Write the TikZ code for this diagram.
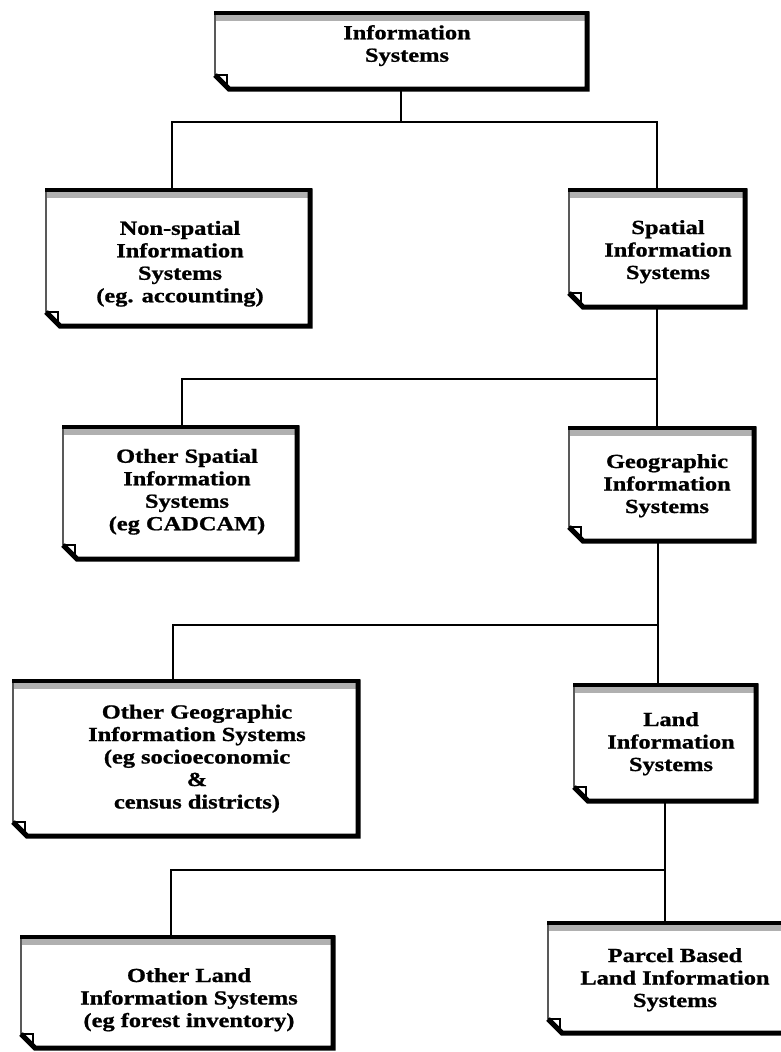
\documentclass[tikz,border=0pt]{standalone}
\usepackage{fontspec}
\usepackage{graphicx}
\newfontfamily\boxfont{Liberation Serif}[BoldFeatures={FakeBold=0.9}]
\newcommand\bt[1]{\scalebox{1.22}[1]{\begin{tabular}{@{}c@{}}#1\end{tabular}}}
\begin{document}
\begin{tikzpicture}[x=1pt,y=-1pt,
  notebox/.style={rectangle,inner sep=0pt,outer sep=0pt,anchor=north west},
  boxtext/.style={inner sep=0pt,font=\boxfont\bfseries\fontsize{20}{22.5}\selectfont},
  conn/.style={line width=2.6pt,line join=miter}]
\useasboundingbox (0,0) rectangle (781,1052);
\newcommand\drawnote[1]{%
  \fill[white] (#1.north west) -- (#1.north east) -- (#1.south east) -- ([xshift=14pt]#1.south west) -- ([yshift=14pt]#1.south west) -- cycle;
  \fill[gray!62] ([shift={(1pt,-2pt)}]#1.north west) rectangle ([shift={(-2pt,-8pt)}]#1.north east);
  \draw[line width=1.4pt,line join=miter] (#1.north west) -- (#1.north east) -- (#1.south east) -- ([xshift=14pt]#1.south west) -- ([yshift=14pt]#1.south west) -- cycle;
  \draw[line width=3.5pt] ([xshift=-0.7pt]#1.north west) -- ([xshift=2pt]#1.north east);
  \draw[line width=5pt,line join=miter] ([yshift=1.75pt]#1.north east) -- (#1.south east) -- ([xshift=14pt]#1.south west) -- ([yshift=14pt]#1.south west);
  \draw[line width=1.2pt] ([yshift=14pt]#1.south west) -- ([shift={(12pt,14pt)}]#1.south west) -- ([xshift=12pt]#1.south west);
}
% boxes
\node[notebox,minimum width=372pt,minimum height=76pt]  (b1) at (215,13) {};
\node[notebox,minimum width=264pt,minimum height=136pt] (b2) at (46,190) {};
\node[notebox,minimum width=176pt,minimum height=117pt] (b3) at (569,190) {};
\node[notebox,minimum width=234pt,minimum height=132pt] (b4) at (63,427) {};
\node[notebox,minimum width=185pt,minimum height=113pt] (b5) at (569,428) {};
\node[notebox,minimum width=345pt,minimum height=155pt] (b6) at (13,681) {};
\node[notebox,minimum width=182pt,minimum height=116pt] (b7) at (574,685) {};
\node[notebox,minimum width=312pt,minimum height=111pt] (b8) at (21,937) {};
\node[notebox,minimum width=238pt,minimum height=110pt] (b9) at (548,923) {};
% junctions
\coordinate (j1) at (401,122);
\coordinate (j2) at (657,379);
\coordinate (j3) at (658,625);
\coordinate (j4) at (665,870);
% connectors
\draw[conn] (b1.south) -- (j1) -| ([xshift=-6pt]b2.north);
\draw[conn] (j1) -| ([xshift=0pt]b3.north);
\draw[conn] ([xshift=0pt]b3.south) -- (j2) -| ([xshift=2pt]b4.north);
\draw[conn] (j2) -- ([xshift=-4.5pt]b5.north);
\draw[conn] ([xshift=-3.5pt]b5.south) -- (j3) -| ([xshift=-12.5pt]b6.north);
\draw[conn] (j3) -- ([xshift=-7pt]b7.north);
\draw[conn] ([xshift=0pt]b7.south) -- (j4) -| ([xshift=-6pt]b8.north);
\draw[conn] (j4) -- ([xshift=-2pt]b9.north);
% box drawings
\drawnote{b1}\drawnote{b2}\drawnote{b3}\drawnote{b4}\drawnote{b5}
\drawnote{b6}\drawnote{b7}\drawnote{b8}\drawnote{b9}
% texts
\node[boxtext] (t1) at (407,46)  {\bt{Information\\Systems}};
\node[boxtext] (t2) at (180,264) {\bt{Non-spatial\\Information\\Systems\\(eg. accounting)}};
\node[boxtext] (t3) at (668,252) {\bt{Spatial\\Information\\Systems}};
\node[boxtext] (t4) at (187,492) {\bt{Other Spatial\\Information\\Systems\\(eg CADCAM)}};
\node[boxtext] (t5) at (667,486) {\bt{Geographic\\Information\\Systems}};
\node[boxtext] (t6) at (197,759) {\bt{Other Geographic\\Information Systems\\(eg socioeconomic\\\&\\census districts)}};
\node[boxtext] (t7) at (671,744) {\bt{Land\\Information\\Systems}};
\node[boxtext] (t8) at (189,1000) {\bt{Other Land\\Information Systems\\(eg forest inventory)}};
\node[boxtext] (t9) at (675,980) {\bt{Parcel Based\\Land Information\\Systems}};
\end{tikzpicture}
\end{document}
